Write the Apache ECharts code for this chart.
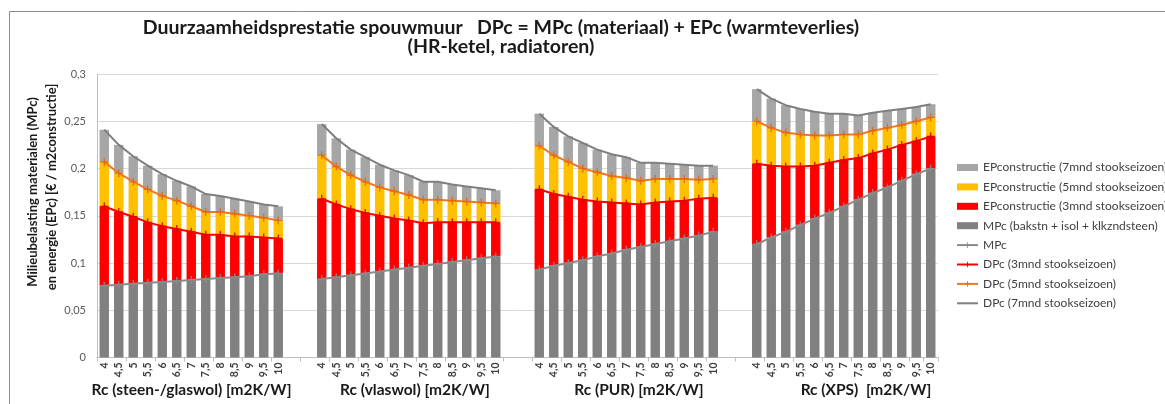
<!DOCTYPE html>
<html>
<head>
<meta charset="utf-8">
<script src="https://cdn.jsdelivr.net/npm/echarts@6/dist/echarts.min.js"></script>
<style>
html,body{margin:0;padding:0;background:#fff;}
#c{width:1165px;height:404px;}
</style>
</head>
<body>
<div id="c"></div>
<script>
// ---- Data ----
const rcLabels = ['4','4,5','5','5,5','6','6,5','7','7,5','8','8,5','9','9,5','10'];
const groupNames = ['Rc (steen-/glaswol) [m2K/W]','Rc (vlaswol) [m2K/W]','Rc (PUR) [m2K/W]','Rc (XPS)  [m2K/W]'];

// steen-/glaswol
const mpcGlaswol  = [0.076,0.077,0.078,0.079,0.080,0.081,0.082,0.083,0.084,0.085,0.086,0.088,0.089];
const dpc3Glaswol = [0.160,0.154,0.149,0.143,0.139,0.136,0.133,0.130,0.130,0.128,0.128,0.127,0.126];
const dpc5Glaswol = [0.207,0.195,0.186,0.178,0.171,0.166,0.160,0.154,0.154,0.152,0.150,0.148,0.145];
const dpc7Glaswol = [0.241,0.225,0.213,0.203,0.194,0.187,0.181,0.173,0.171,0.168,0.165,0.162,0.160];
// vlaswol
const mpcVlaswol  = [0.083,0.085,0.087,0.089,0.091,0.093,0.095,0.097,0.099,0.101,0.103,0.105,0.107];
const dpc3Vlaswol = [0.168,0.162,0.157,0.153,0.150,0.147,0.145,0.142,0.143,0.143,0.143,0.143,0.143];
const dpc5Vlaswol = [0.214,0.202,0.193,0.186,0.180,0.176,0.172,0.167,0.167,0.166,0.165,0.164,0.163];
const dpc7Vlaswol = [0.247,0.232,0.220,0.212,0.204,0.198,0.193,0.186,0.186,0.183,0.181,0.179,0.177];
// PUR
const mpcPUR  = [0.093,0.097,0.100,0.103,0.107,0.110,0.114,0.117,0.120,0.123,0.126,0.129,0.133];
const dpc3PUR = [0.178,0.173,0.170,0.167,0.165,0.164,0.163,0.162,0.164,0.165,0.166,0.168,0.169];
const dpc5PUR = [0.224,0.214,0.207,0.200,0.196,0.192,0.190,0.187,0.189,0.189,0.189,0.188,0.189];
const dpc7PUR = [0.258,0.244,0.234,0.227,0.220,0.215,0.212,0.206,0.206,0.205,0.204,0.203,0.203];
// XPS
const mpcXPS  = [0.120,0.127,0.133,0.140,0.147,0.153,0.160,0.167,0.174,0.180,0.187,0.194,0.200];
const dpc3XPS = [0.205,0.203,0.202,0.202,0.203,0.206,0.209,0.211,0.216,0.220,0.225,0.229,0.234];
const dpc5XPS = [0.250,0.243,0.238,0.236,0.235,0.235,0.236,0.236,0.240,0.243,0.246,0.250,0.254];
const dpc7XPS = [0.284,0.274,0.267,0.263,0.260,0.258,0.258,0.256,0.259,0.261,0.263,0.265,0.268];

const yTicks = [0,0.05,0.1,0.15,0.2,0.25,0.3];

// ---- Build ----
const groupsMPc  = [mpcGlaswol, mpcVlaswol, mpcPUR, mpcXPS];
const groupsDPc3 = [dpc3Glaswol, dpc3Vlaswol, dpc3PUR, dpc3XPS];
const groupsDPc5 = [dpc5Glaswol, dpc5Vlaswol, dpc5PUR, dpc5XPS];
const groupsDPc7 = [dpc7Glaswol, dpc7Vlaswol, dpc7PUR, dpc7XPS];
const GAP = 2;

function joinGroups(groups){
  const out = [];
  groups.forEach((g,i)=>{ g.forEach(v=>out.push(v)); if(i<groups.length-1){ for(let k=0;k<GAP;k++) out.push(null);} });
  return out;
}
const categories = [];
groupsMPc.forEach((g,i)=>{ rcLabels.forEach(l=>categories.push(l)); if(i<groupsMPc.length-1){ for(let k=0;k<GAP;k++) categories.push('');} });

const mpc = joinGroups(groupsMPc);
const dpc3 = joinGroups(groupsDPc3);
const dpc5 = joinGroups(groupsDPc5);
const dpc7 = joinGroups(groupsDPc7);
const diff = (a,b)=>a.map((v,i)=> v==null ? null : +(v-b[i]).toFixed(4));
const ep3 = diff(dpc3, mpc);
const ep5 = diff(dpc5, dpc3);
const ep7 = diff(dpc7, dpc5);

const FONT = 'Lato, "Open Sans", sans-serif';
const plus = 'path://M-0.6,-4L0.6,-4L0.6,-0.6L4,-0.6L4,0.6L0.6,0.6L0.6,4L-0.6,4L-0.6,0.6L-4,0.6L-4,-0.6L-0.6,-0.6Z';

const names = {
  ep7:'EPconstructie (7mnd stookseizoen)',
  ep5:'EPconstructie (5mnd stookseizoen)',
  ep3:'EPconstructie (3mnd stookseizoen)',
  mpcBar:'MPc (bakstn + isol + klkzndsteen)',
  mpcLine:'MPc',
  d3:'DPc (3mnd stookseizoen)',
  d5:'DPc (5mnd stookseizoen)',
  d7:'DPc (7mnd stookseizoen)'
};

const chart = echarts.init(document.getElementById('c'), null, {renderer:'canvas'});
const barCommon = {type:'bar', stack:'total', barCategoryGap:'35%'};
const lineCommon = {type:'line', connectNulls:false, z:5, symbolSize:8, lineStyle:{width:2}};

chart.setOption({
  animation:false,
  backgroundColor:'#fff',
  textStyle:{fontFamily:FONT},
  grid:{left:97, right:227, top:74, bottom:46.5, containLabel:false},
  legend:{
    orient:'vertical', left:956, top:161.5, padding:0, itemWidth:21, itemHeight:7, itemGap:7.4,
    textStyle:{fontSize:12, color:'#404040', fontFamily:FONT, padding:[0,0,0,0]},
    data:[
      {name:names.ep7, icon:'rect'},
      {name:names.ep5, icon:'rect'},
      {name:names.ep3, icon:'rect'},
      {name:names.mpcBar, icon:'rect'},
      names.mpcLine, names.d3, names.d5,
      {name:names.d7, itemStyle:{opacity:0}}
    ]
  },
  xAxis:{
    type:'category', data:categories, boundaryGap:true,
    axisLine:{lineStyle:{color:'#BFBFBF'}},
    axisTick:{show:true, interval:1, length:4, lineStyle:{color:'#BFBFBF'}},
    axisLabel:{interval:0, rotate:90, fontSize:10.5, fontWeight:'bold', color:'#404040', margin:5, fontFamily:FONT}
  },
  yAxis:{
    type:'value', min:yTicks[0], max:yTicks[yTicks.length-1], interval:0.05,
    axisLine:{show:true, lineStyle:{color:'#BFBFBF'}},
    axisTick:{show:false},
    splitLine:{lineStyle:{color:'#D9D9D9'}},
    axisLabel:{fontSize:11, color:'#595959', margin:11, fontFamily:FONT,
      formatter:v=>String(+v.toFixed(2)).replace('.',',')}
  },
  graphic:[
    {type:'rect', left:7, top:9, shape:{width:1300, height:600}, style:{fill:'none', stroke:'#8C8C8C', lineWidth:1}, silent:true},
    {type:'text', x:501, y:28, style:{text:'Duurzaamheidsprestatie spouwmuur   DPc = MPc (materiaal) + EPc (warmteverlies)', font:'bold 19.5px '+FONT, fill:'#1a1a1a', textAlign:'center', textVerticalAlign:'middle'}},
    {type:'text', x:501, y:46.5, style:{text:'(HR-ketel, radiatoren)', font:'bold 19.5px '+FONT, fill:'#1a1a1a', textAlign:'center', textVerticalAlign:'middle'}},
    {type:'text', x:33, y:192, rotation:Math.PI/2, style:{text:'Milieubelasting materialen (MPc)', font:'bold 13px '+FONT, fill:'#1a1a1a', textAlign:'center', textVerticalAlign:'middle'}},
    {type:'text', x:52, y:187, rotation:Math.PI/2, style:{text:'en energie (EPc) [€ / m2constructie]', font:'bold 13px '+FONT, fill:'#1a1a1a', textAlign:'center', textVerticalAlign:'middle'}},
    {type:'text', x:191.5, y:390, style:{text:groupNames[0], font:'bold 15.5px '+FONT, fill:'#1a1a1a', textAlign:'center', textVerticalAlign:'middle'}},
    {type:'text', x:415, y:390, style:{text:groupNames[1], font:'bold 15.5px '+FONT, fill:'#1a1a1a', textAlign:'center', textVerticalAlign:'middle'}},
    {type:'text', x:639, y:390, style:{text:groupNames[2], font:'bold 15.5px '+FONT, fill:'#1a1a1a', textAlign:'center', textVerticalAlign:'middle'}},
    {type:'text', x:866, y:390, style:{text:groupNames[3], font:'bold 15.5px '+FONT, fill:'#1a1a1a', textAlign:'center', textVerticalAlign:'middle'}}
  ],
  series:[
    Object.assign({name:names.mpcBar, data:mpc, itemStyle:{color:'#808080'}}, barCommon),
    Object.assign({name:names.ep3, data:ep3, itemStyle:{color:'#FF0000'}}, barCommon),
    Object.assign({name:names.ep5, data:ep5, itemStyle:{color:'#FFC000'}}, barCommon),
    Object.assign({name:names.ep7, data:ep7, itemStyle:{color:'#A6A6A6'}}, barCommon),
    Object.assign({}, lineCommon, {name:names.mpcLine, data:mpc, symbol:plus, itemStyle:{color:'#8A8A8A'}, lineStyle:{width:2, color:'#8A8A8A'}}),
    Object.assign({}, lineCommon, {name:names.d3, data:dpc3, symbol:plus, itemStyle:{color:'#E00000'}, lineStyle:{width:2, color:'#FF0000'}}),
    Object.assign({}, lineCommon, {name:names.d5, data:dpc5, symbol:plus, itemStyle:{color:'#E06A10'}, lineStyle:{width:2, color:'#F07820'}}),
    Object.assign({}, lineCommon, {name:names.d7, data:dpc7, symbol:'none', itemStyle:{color:'#7F7F7F'}, lineStyle:{width:2, color:'#7F7F7F'}})
  ]
});
</script>
</body>
</html>
